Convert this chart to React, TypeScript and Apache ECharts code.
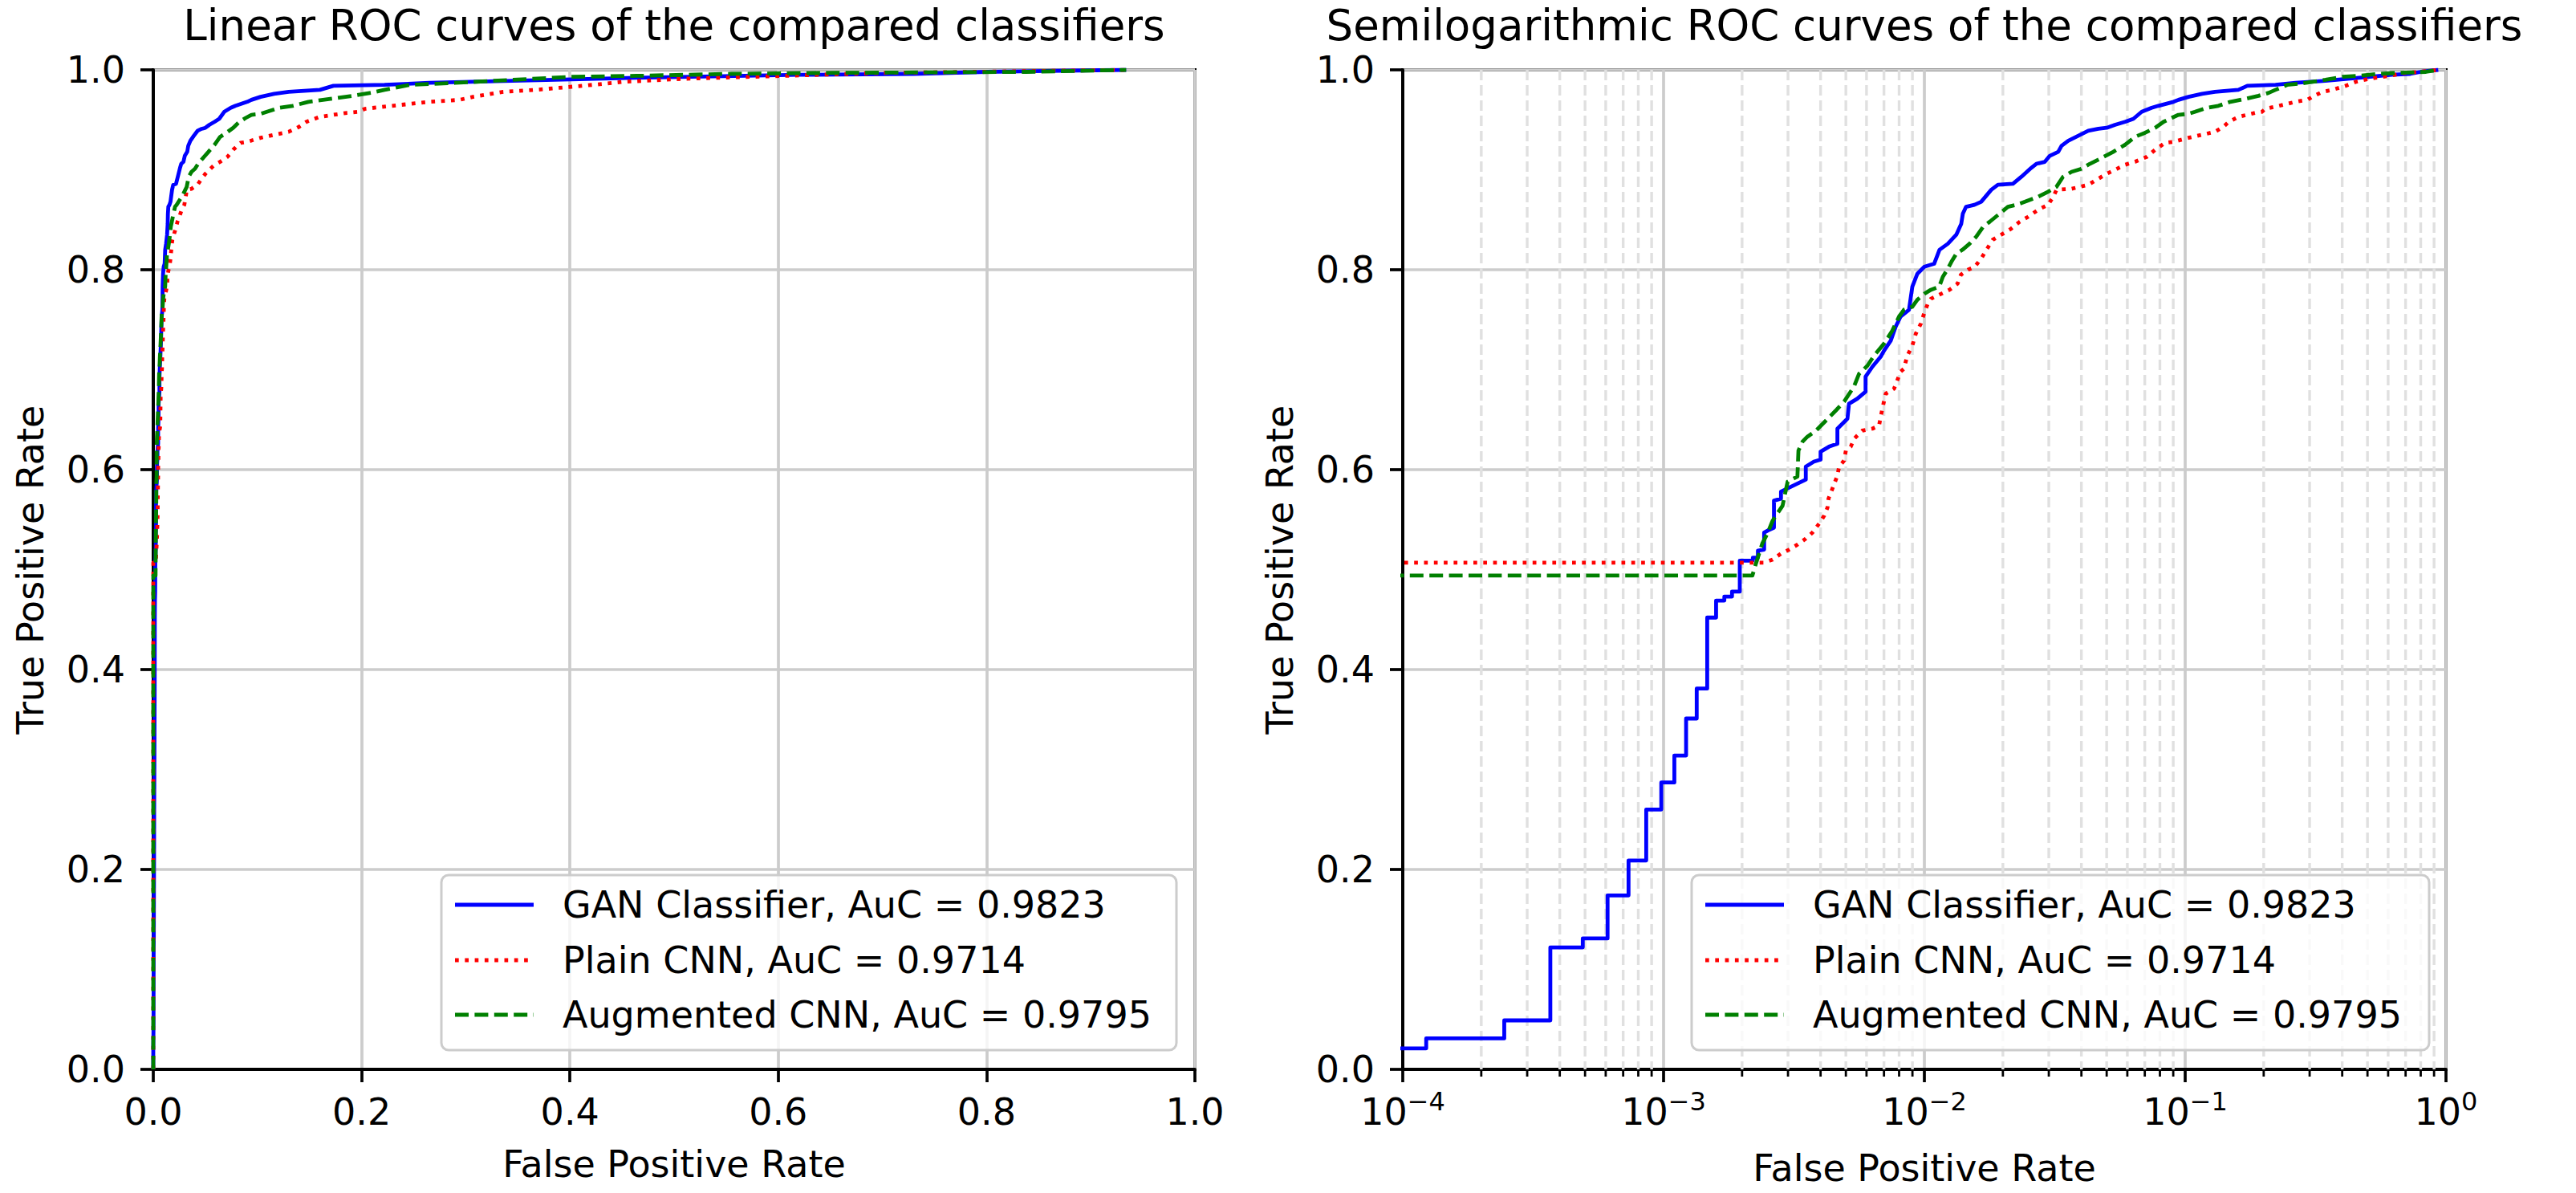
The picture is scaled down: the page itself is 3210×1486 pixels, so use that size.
import React, { useEffect, useRef } from "react";
import * as echarts from "echarts";

const FONT = "DejaVu Sans";

const leftTitle = "Linear ROC curves of the compared classifiers";
const rightTitle = "Semilogarithmic ROC curves of the compared classifiers";
const xAxisName = "False Positive Rate";
const yAxisName = "True Positive Rate";

const seriesNames = [
  "GAN Classifier, AuC = 0.9823",
  "Plain CNN, AuC = 0.9714",
  "Augmented CNN, AuC = 0.9795",
];
const seriesColors = ["#0000ff", "#ff0000", "#008000"];
const seriesDash: (number[] | "solid")[] = ["solid", [4.7, 7.6], [17, 7.4]];

// log-axis minor tick multipliers and decades
const minorMultipliers = [2, 3, 4, 5, 6, 7, 8, 9];
const minorDecades = [1e-4, 1e-3, 1e-2, 1e-1];

// [FPR, TPR] pairs
const ganRoc: [number, number][] = [
  [1e-6, 0.021], [1.23e-4, 0.021], [1.23e-4, 0.031], [2.45e-4, 0.031], [2.45e-4, 0.049],
  [3.68e-4, 0.049], [3.68e-4, 0.122], [4.9e-4, 0.122], [4.9e-4, 0.131], [6.1e-4, 0.131],
  [6.1e-4, 0.174], [7.34e-4, 0.174], [7.34e-4, 0.209], [8.58e-4, 0.209], [8.58e-4, 0.26],
  [9.8e-4, 0.26], [9.8e-4, 0.287], [1.1e-3, 0.287], [1.1e-3, 0.314], [1.22e-3, 0.314],
  [1.22e-3, 0.351], [1.34e-3, 0.351], [1.34e-3, 0.381], [1.47e-3, 0.381], [1.47e-3, 0.452],
  [1.59e-3, 0.452], [1.59e-3, 0.469], [1.71e-3, 0.469], [1.71e-3, 0.473], [1.83e-3, 0.473],
  [1.83e-3, 0.478], [1.96e-3, 0.478], [1.96e-3, 0.509], [2.2e-3, 0.509], [2.2e-3, 0.512],
  [2.3e-3, 0.512], [2.3e-3, 0.519], [2.43e-3, 0.52], [2.43e-3, 0.537], [2.55e-3, 0.54],
  [2.65e-3, 0.542], [2.65e-3, 0.569], [2.82e-3, 0.571], [2.82e-3, 0.578], [3.03e-3, 0.582],
  [3.26e-3, 0.586], [3.51e-3, 0.59], [3.51e-3, 0.603], [3.77e-3, 0.608], [4.0e-3, 0.61],
  [4.0e-3, 0.618], [4.31e-3, 0.623], [4.64e-3, 0.626], [4.64e-3, 0.641], [5.07e-3, 0.651],
  [5.14e-3, 0.666], [5.53e-3, 0.671], [5.95e-3, 0.678], [5.95e-3, 0.693], [6.32e-3, 0.703],
  [6.8e-3, 0.713], [7.0e-3, 0.719], [7.43e-3, 0.729], [7.76e-3, 0.743], [8.1e-3, 0.753],
  [8.73e-3, 0.76], [8.99e-3, 0.783], [9.4e-3, 0.796], [0.01, 0.803], [0.0109, 0.806],
  [0.01143, 0.82], [0.0123, 0.826], [0.01325, 0.835], [0.01385, 0.846], [0.01404, 0.856],
  [0.01445, 0.863], [0.01556, 0.865], [0.01651, 0.868], [0.01805, 0.88], [0.01914, 0.885],
  [0.02186, 0.886], [0.02355, 0.893], [0.0257, 0.902], [0.02687, 0.906], [0.02896, 0.908],
  [0.03027, 0.914], [0.0326, 0.918], [0.03357, 0.924], [0.0356, 0.929], [0.0389, 0.934],
  [0.0425, 0.939], [0.04645, 0.941], [0.05, 0.942], [0.0538, 0.945], [0.0588, 0.948],
  [0.0633, 0.951], [0.0681, 0.958], [0.0744, 0.962], [0.0789, 0.964], [0.0902, 0.968],
  [0.0942, 0.97], [0.103, 0.973], [0.116, 0.976], [0.13, 0.978], [0.16, 0.98],
  [0.173, 0.984], [0.222, 0.985], [0.265, 0.987], [0.345, 0.989], [0.464, 0.992],
  [0.62, 0.995], [0.73, 0.996], [0.8, 0.998], [0.934, 1.0],
];

const plainRoc: [number, number][] = [
  [1e-6, 0.507], [2.43e-3, 0.507], [2.62e-3, 0.51], [2.82e-3, 0.516], [3.03e-3, 0.52],
  [3.26e-3, 0.525], [3.51e-3, 0.531], [3.72e-3, 0.537], [3.95e-3, 0.546], [4.13e-3, 0.554],
  [4.25e-3, 0.562], [4.29e-3, 0.571], [4.44e-3, 0.581], [4.64e-3, 0.594], [4.71e-3, 0.603],
  [4.92e-3, 0.609], [5.0e-3, 0.619], [5.22e-3, 0.623], [5.38e-3, 0.631], [5.78e-3, 0.639],
  [6.32e-3, 0.641], [6.7e-3, 0.644], [6.9e-3, 0.661], [7.11e-3, 0.676], [7.65e-3, 0.681],
  [8.11e-3, 0.698], [8.35e-3, 0.701], [8.6e-3, 0.714], [8.99e-3, 0.724], [9.27e-3, 0.736],
  [9.69e-3, 0.746], [9.97e-3, 0.756], [0.0103, 0.766], [0.0106, 0.771], [0.0114, 0.775],
  [0.0125, 0.78], [0.0134, 0.786], [0.0138, 0.795], [0.0147, 0.8], [0.0156, 0.803],
  [0.0165, 0.811], [0.0173, 0.82], [0.0183, 0.83], [0.02, 0.836], [0.0215, 0.841],
  [0.0232, 0.848], [0.025, 0.853], [0.0273, 0.86], [0.0298, 0.865], [0.0312, 0.873],
  [0.0321, 0.88], [0.0367, 0.881], [0.0425, 0.885], [0.0464, 0.891], [0.05, 0.896],
  [0.0538, 0.9], [0.0588, 0.905], [0.0642, 0.908], [0.0713, 0.913], [0.0767, 0.92],
  [0.0838, 0.927], [0.0902, 0.928], [0.103, 0.932], [0.116, 0.935], [0.13, 0.938],
  [0.14, 0.943], [0.147, 0.948], [0.16, 0.953], [0.186, 0.957], [0.197, 0.958],
  [0.203, 0.961], [0.229, 0.964], [0.265, 0.968], [0.294, 0.97], [0.307, 0.973],
  [0.336, 0.978], [0.367, 0.98], [0.412, 0.984], [0.451, 0.988], [0.507, 0.991],
  [0.605, 0.994], [0.702, 0.997], [0.789, 0.998], [0.934, 1.0],
];

const augmentedRoc: [number, number][] = [
  [1e-6, 0.494], [2.19e-3, 0.494], [2.26e-3, 0.506], [2.39e-3, 0.526], [2.5e-3, 0.536],
  [2.62e-3, 0.549], [2.86e-3, 0.564], [2.94e-3, 0.579], [2.99e-3, 0.588], [3.26e-3, 0.593],
  [3.29e-3, 0.619], [3.41e-3, 0.628], [3.56e-3, 0.633], [3.84e-3, 0.639], [4.19e-3, 0.649],
  [4.57e-3, 0.659], [4.92e-3, 0.668], [5.37e-3, 0.683], [5.62e-3, 0.696], [6.05e-3, 0.704],
  [6.41e-3, 0.714], [7.0e-3, 0.726], [7.53e-3, 0.739], [7.99e-3, 0.753], [8.35e-3, 0.76],
  [8.99e-3, 0.763], [9.4e-3, 0.77], [0.01, 0.776], [0.0106, 0.78], [0.0114, 0.783],
  [0.01177, 0.793], [0.0123, 0.801], [0.0127, 0.808], [0.01325, 0.816], [0.014, 0.82],
  [0.0149, 0.826], [0.0158, 0.833], [0.0168, 0.843], [0.0178, 0.848], [0.0194, 0.856],
  [0.0209, 0.863], [0.0225, 0.865], [0.0243, 0.868], [0.0273, 0.873], [0.0298, 0.878],
  [0.0321, 0.883], [0.034, 0.893], [0.0367, 0.898], [0.04, 0.901], [0.0431, 0.906],
  [0.0471, 0.911], [0.053, 0.918], [0.0588, 0.925], [0.0642, 0.933], [0.0701, 0.937],
  [0.0767, 0.942], [0.0826, 0.948], [0.0889, 0.952], [0.0942, 0.955], [0.103, 0.956],
  [0.109, 0.958], [0.121, 0.962], [0.134, 0.964], [0.149, 0.968], [0.17, 0.971],
  [0.191, 0.974], [0.209, 0.977], [0.222, 0.98], [0.246, 0.985], [0.29, 0.987],
  [0.345, 0.99], [0.401, 0.993], [0.464, 0.994], [0.555, 0.996], [0.662, 0.997],
  [0.838, 0.998], [0.934, 1.0],
];

const rocData = [ganRoc, plainRoc, augmentedRoc];

// layout (pixels)
const L_GRID = { left: 191, top: 87, width: 1298, height: 1245 };
const R_GRID = { left: 1748, top: 87, width: 1300, height: 1245 };
const LINE_W = 4.8;

function fmt1(v: number) {
  return v.toFixed(1);
}

function logLabel(v: number) {
  const e = Math.round(Math.log10(v));
  const s = e < 0 ? "\u2212" + String(-e) : String(e);
  return `{b|10}{s|${s}}`;
}

function yAxis(gridIndex: number) {
  return {
    type: "value",
    gridIndex,
    min: 0,
    max: 1,
    interval: 0.2,
    name: yAxisName,
    nameLocation: "middle",
    nameGap: 130,
    nameTextStyle: { fontSize: 46, color: "#000", fontFamily: FONT },
    axisLine: { show: true, lineStyle: { color: "#000", width: 4 } },
    axisTick: { show: true, length: 16, lineStyle: { color: "#000", width: 3.7 } },
    axisLabel: { margin: 35, fontSize: 46, color: "#000", fontFamily: FONT, formatter: fmt1 },
    splitLine: { show: true, lineStyle: { color: "#cccccc", width: 3.7 } },
  };
}

function titleElement(text: string, cx: number) {
  return {
    type: "text",
    z: 100,
    x: cx,
    y: 4.5,
    style: {
      text,
      fontSize: 53,
      fontFamily: FONT,
      fill: "#000",
      align: "center",
      verticalAlign: "top",
    },
  };
}

function legendElements(x0: number, w: number) {
  const top = 1090;
  const rowY = [1127, 1196, 1264];
  const els: any[] = [
    {
      type: "rect",
      z: 100,
      shape: { x: x0, y: top, width: w, height: 218, r: 9 },
      style: { fill: "rgba(255,255,255,0.8)", stroke: "#cccccc", lineWidth: 3 },
    },
  ];
  seriesNames.forEach((name, i) => {
    const dash = seriesDash[i];
    els.push({
      type: "line",
      z: 101,
      shape: { x1: x0 + 17, y1: rowY[i], x2: x0 + 115, y2: rowY[i] },
      style: {
        stroke: seriesColors[i],
        lineWidth: LINE_W,
        lineDash: dash === "solid" ? null : dash,
      },
    });
    els.push({
      type: "text",
      z: 101,
      x: x0 + 151,
      y: rowY[i],
      style: {
        text: name,
        fontSize: 46,
        fontFamily: FONT,
        fill: "#000",
        verticalAlign: "middle",
        align: "left",
      },
    });
  });
  return els;
}

export default function App() {
  const ref = useRef<HTMLDivElement>(null);

  useEffect(() => {
    if (!ref.current) return;
    const chart = echarts.init(ref.current, null, { renderer: "svg" });

    const minorValues: number[][] = [];
    minorDecades.forEach((d) => minorMultipliers.forEach((m) => minorValues.push([d * m, 0])));

    const lineSeries: any[] = [];
    rocData.forEach((pts, i) => {
      const dash = seriesDash[i];
      const lineStyle = {
        color: seriesColors[i],
        width: LINE_W,
        type: dash,
        join: "round",
        cap: "butt",
      };
      lineSeries.push({
        type: "line",
        name: seriesNames[i],
        xAxisIndex: 0,
        yAxisIndex: 0,
        data: [[0, 0], ...pts],
        symbol: "none",
        showSymbol: false,
        lineStyle,
        z: 3,
        silent: true,
      });
      lineSeries.push({
        type: "line",
        name: seriesNames[i],
        xAxisIndex: 1,
        yAxisIndex: 1,
        data: pts,
        symbol: "none",
        showSymbol: false,
        lineStyle,
        z: 3,
        silent: true,
      });
    });

    const option: any = {
      animation: false,
      backgroundColor: "#ffffff",
      textStyle: { fontFamily: FONT },
      grid: [
        { ...L_GRID, show: true, borderColor: "#000", borderWidth: 4, backgroundColor: "transparent" },
        { ...R_GRID, show: true, borderColor: "#000", borderWidth: 4, backgroundColor: "transparent" },
      ],
      xAxis: [
        {
          type: "value",
          gridIndex: 0,
          min: 0,
          max: 1,
          interval: 0.2,
          name: xAxisName,
          nameLocation: "middle",
          nameGap: 95,
          nameTextStyle: { fontSize: 46, color: "#000", fontFamily: FONT },
          axisLine: { show: true, lineStyle: { color: "#000", width: 4 } },
          axisTick: { show: true, length: 16, lineStyle: { color: "#000", width: 3.7 } },
          axisLabel: { margin: 30, fontSize: 46, color: "#000", fontFamily: FONT, formatter: fmt1 },
          splitLine: { show: true, lineStyle: { color: "#cccccc", width: 3.7 } },
        },
        {
          type: "log",
          logBase: 10,
          gridIndex: 1,
          min: 1e-4,
          max: 1,
          name: xAxisName,
          nameLocation: "middle",
          nameGap: 100,
          nameTextStyle: { fontSize: 46, color: "#000", fontFamily: FONT },
          axisLine: { show: true, lineStyle: { color: "#000", width: 4 } },
          axisTick: { show: true, length: 16, lineStyle: { color: "#000", width: 3.7 } },
          axisLabel: {
            margin: 24,
            color: "#000",
            formatter: logLabel,
            rich: {
              b: { fontSize: 46, fontFamily: FONT, color: "#000" },
              s: { fontSize: 32, fontFamily: FONT, color: "#000", padding: [0, 0, 26, 0] },
            },
          },
          splitLine: { show: true, lineStyle: { color: "#cccccc", width: 3.7 } },
        },
      ],
      yAxis: [yAxis(0), yAxis(1)],
      series: [
        {
          type: "custom",
          xAxisIndex: 1,
          yAxisIndex: 1,
          z: 1,
          silent: true,
          clip: false,
          data: minorValues,
          renderItem: (params: any, api: any) => {
            const v = api.value(0);
            const top = api.coord([v, 1]);
            const bot = api.coord([v, 0]);
            return {
              type: "group",
              children: [
                {
                  type: "line",
                  shape: { x1: top[0], y1: top[1], x2: bot[0], y2: bot[1] },
                  style: { stroke: "#e0e0e0", lineWidth: 3.4, lineDash: [13, 6] },
                },
                {
                  type: "line",
                  shape: { x1: bot[0], y1: bot[1], x2: bot[0], y2: bot[1] + 9 },
                  style: { stroke: "#000", lineWidth: 2.8 },
                },
              ],
            };
          },
        },
        ...lineSeries,
      ],
      graphic: [
        titleElement(leftTitle, L_GRID.left + L_GRID.width / 2),
        titleElement(rightTitle, R_GRID.left + R_GRID.width / 2),
        ...legendElements(550, 916),
        ...legendElements(2108, 919),
      ],
    };

    chart.setOption(option);
    return () => chart.dispose();
  }, []);

  return (
    <div
      ref={ref}
      style={{ position: "fixed", left: 0, top: 0, width: 3210, height: 1486, background: "#fff" }}
    />
  );
}
